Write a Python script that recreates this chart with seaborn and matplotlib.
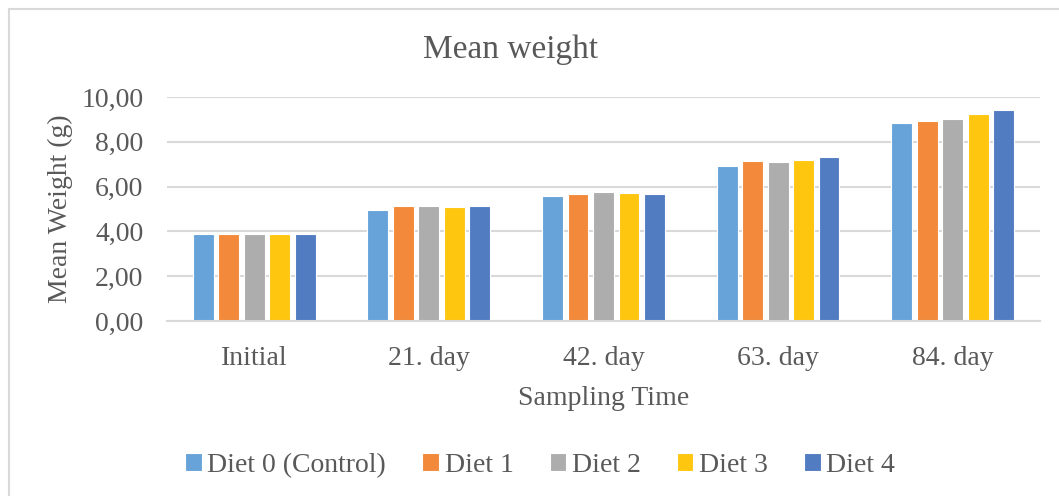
import pandas as pd
import matplotlib
matplotlib.use("Agg")
import matplotlib.pyplot as plt
import seaborn as sns
from matplotlib.ticker import FuncFormatter
from matplotlib.patches import Rectangle

# values
times = ["Initial", "21. day", "42. day", "63. day", "84. day"]
diets = ["Diet 0 (Control)", "Diet 1", "Diet 2", "Diet 3", "Diet 4"]
diet0 = [3.88, 4.95, 5.60, 6.94, 8.83]
diet1 = [3.88, 5.14, 5.66, 7.15, 8.93]
diet2 = [3.88, 5.14, 5.75, 7.09, 9.02]
diet3 = [3.88, 5.10, 5.71, 7.19, 9.25]
diet4 = [3.88, 5.14, 5.66, 7.34, 9.44]
colors = ["#67a3d9", "#f2893b", "#adadad", "#fec60f", "#527cc1"]

rows = []
for d, vals in zip(diets, [diet0, diet1, diet2, diet3, diet4]):
    for t, v in zip(times, vals):
        rows.append({"time": t, "diet": d, "weight": v})
df = pd.DataFrame(rows)

sns.set_theme(style="white")
plt.rcParams["font.family"] = ["Liberation Serif", "DejaVu Serif"]
txt = "#595959"
grid = "#d9d9d9"

fig = plt.figure(figsize=(10.59, 4.96), dpi=100)
ax = fig.add_axes([0.1577, 0.3528, 0.8243, 0.4516])

sns.barplot(data=df, x="time", y="weight", hue="diet", order=times,
            hue_order=diets, palette=colors, width=0.73, gap=0.18,
            edgecolor="white", linewidth=0.8, saturation=1, ax=ax)

ax.set_ylim(0, 10)
ax.set_yticks([0, 2, 4, 6, 8, 10])
ax.yaxis.set_major_formatter(FuncFormatter(lambda v, p: f"{v:.2f}".replace(".", ",")))
ax.grid(axis="y", color=grid, linewidth=1.5)
ax.set_axisbelow(True)
for s in ["left", "right", "top"]:
    ax.spines[s].set_visible(False)
ax.spines["bottom"].set_color(grid)
ax.spines["bottom"].set_linewidth(1.5)
ax.tick_params(axis="both", length=0, labelsize=20, colors=txt)
ax.tick_params(axis="y", pad=17)
ax.tick_params(axis="x", pad=18)

ax.set_xlabel("Sampling Time", fontsize=20, color=txt, labelpad=11)
ax.set_ylabel("Mean Weight (g)", fontsize=20, color=txt, labelpad=6)
fig.text(0.482, 0.9, "Mean weight", fontsize=24, color=txt, ha="center", va="center")

handles, labels = ax.get_legend_handles_labels()
ax.get_legend().remove()
fig.legend(handles, labels, loc="center", bbox_to_anchor=(0.51, 0.062), ncol=5,
           frameon=False, fontsize=20, labelcolor=txt, handlelength=0.6,
           handleheight=0.6, handletextpad=0.2, columnspacing=1.3)

fig.patches.append(Rectangle((9 / 1059, -0.1), 1.2, 0.1 + (496 - 9) / 496,
                             transform=fig.transFigure, fill=False,
                             edgecolor=grid, linewidth=1.5))

fig.savefig("out.png", dpi=100, facecolor="white")
